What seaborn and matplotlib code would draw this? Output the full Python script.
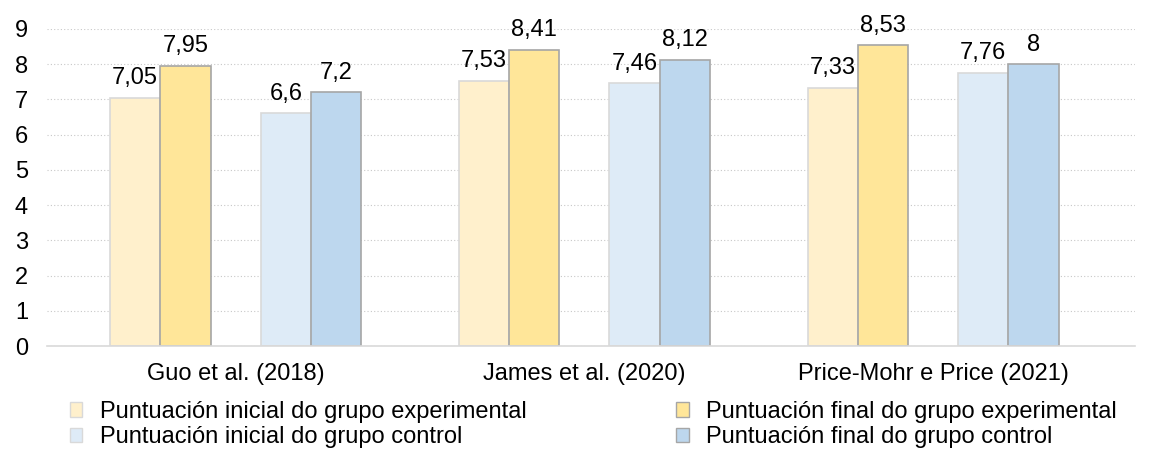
import matplotlib
matplotlib.use("Agg")
import matplotlib.pyplot as plt
from matplotlib.patches import Patch
import pandas as pd
import seaborn as sns

# data
studies = ["Guo et al. (2018)", "James et al. (2020)", "Price-Mohr e Price (2021)"]
series = ["Puntuación inicial do grupo experimental",
          "Puntuación final do grupo experimental",
          "Puntuación inicial do grupo control",
          "Puntuación final do grupo control"]
ini_exp = [7.05, 7.53, 7.33]
fin_exp = [7.95, 8.41, 8.53]
ini_ctl = [6.6, 7.46, 7.76]
fin_ctl = [7.2, 8.12, 8.0]

colors = ["#FFF0CC", "#FFE699", "#DEEBF7", "#BDD7EE"]
edges = ["#D9D9D9", "#A6A6A6", "#D9D9D9", "#A6A6A6"]

rows = []
for s, vals in zip(series, [ini_exp, fin_exp, ini_ctl, fin_ctl]):
    for st, v in zip(studies, vals):
        rows.append({"study": st, "serie": s, "valor": v})
df = pd.DataFrame(rows)

sns.set_style("white")
plt.rcParams["font.family"] = ["Liberation Sans", "DejaVu Sans"]
plt.rcParams["text.color"] = "black"
plt.rcParams["xtick.color"] = "black"
plt.rcParams["ytick.color"] = "black"
FS = 17

fig = plt.figure(figsize=(11.55, 4.5), dpi=100)
ax = fig.add_axes([0.041, 0.231, 0.942, 0.705])

# empty hue slot keeps a gap between the experimental and control pairs
gap = " "
hue_order = [series[0], series[1], gap, series[2], series[3]]
palette = {series[i]: colors[i] for i in range(4)}
palette[gap] = "white"
sns.barplot(data=df, x="study", y="valor", hue="serie", hue_order=hue_order,
            palette=palette, width=0.72, ax=ax, legend=False, saturation=1)

for cont in ax.containers:
    if len(cont) == 0:
        continue
    i = colors.index(matplotlib.colors.to_hex(cont[0].get_facecolor()).upper())
    for p in cont:
        p.set_edgecolor(edges[i])
        p.set_linewidth(1.2)
    ax.bar_label(cont, labels=[f"{v:g}".replace(".", ",") for v in cont.datavalues],
                 padding=6, fontsize=FS, color="black")

ax.set_ylim(0, 9)
ax.set_xlim(-0.54, 2.58)
ax.set_yticks(range(0, 10))
ax.yaxis.grid(True, linestyle=(0, (1, 2)), color="#C8C8C8", linewidth=0.8)
ax.set_axisbelow(True)
for side in ["top", "right", "left"]:
    ax.spines[side].set_visible(False)
ax.spines["bottom"].set_color("#D9D9D9")
ax.spines["bottom"].set_linewidth(1.2)
ax.tick_params(axis="both", length=0, labelsize=FS, labelcolor="black")
ax.tick_params(axis="x", pad=12)
ax.tick_params(axis="y", pad=14)
ax.set_xlabel("")
ax.set_ylabel("")

handles = [Patch(facecolor=colors[i], edgecolor=edges[i], label=series[i]) for i in [0, 2, 1, 3]]
fig.legend(handles=handles, ncol=2, loc="upper left", bbox_to_anchor=(0.052, 0.13),
           frameon=False, fontsize=FS, handlelength=0.55, handleheight=0.55,
           handletextpad=0.75, columnspacing=6.3, labelspacing=0.15, borderaxespad=0,
           labelcolor="black")

fig.savefig("out.png", dpi=100)
